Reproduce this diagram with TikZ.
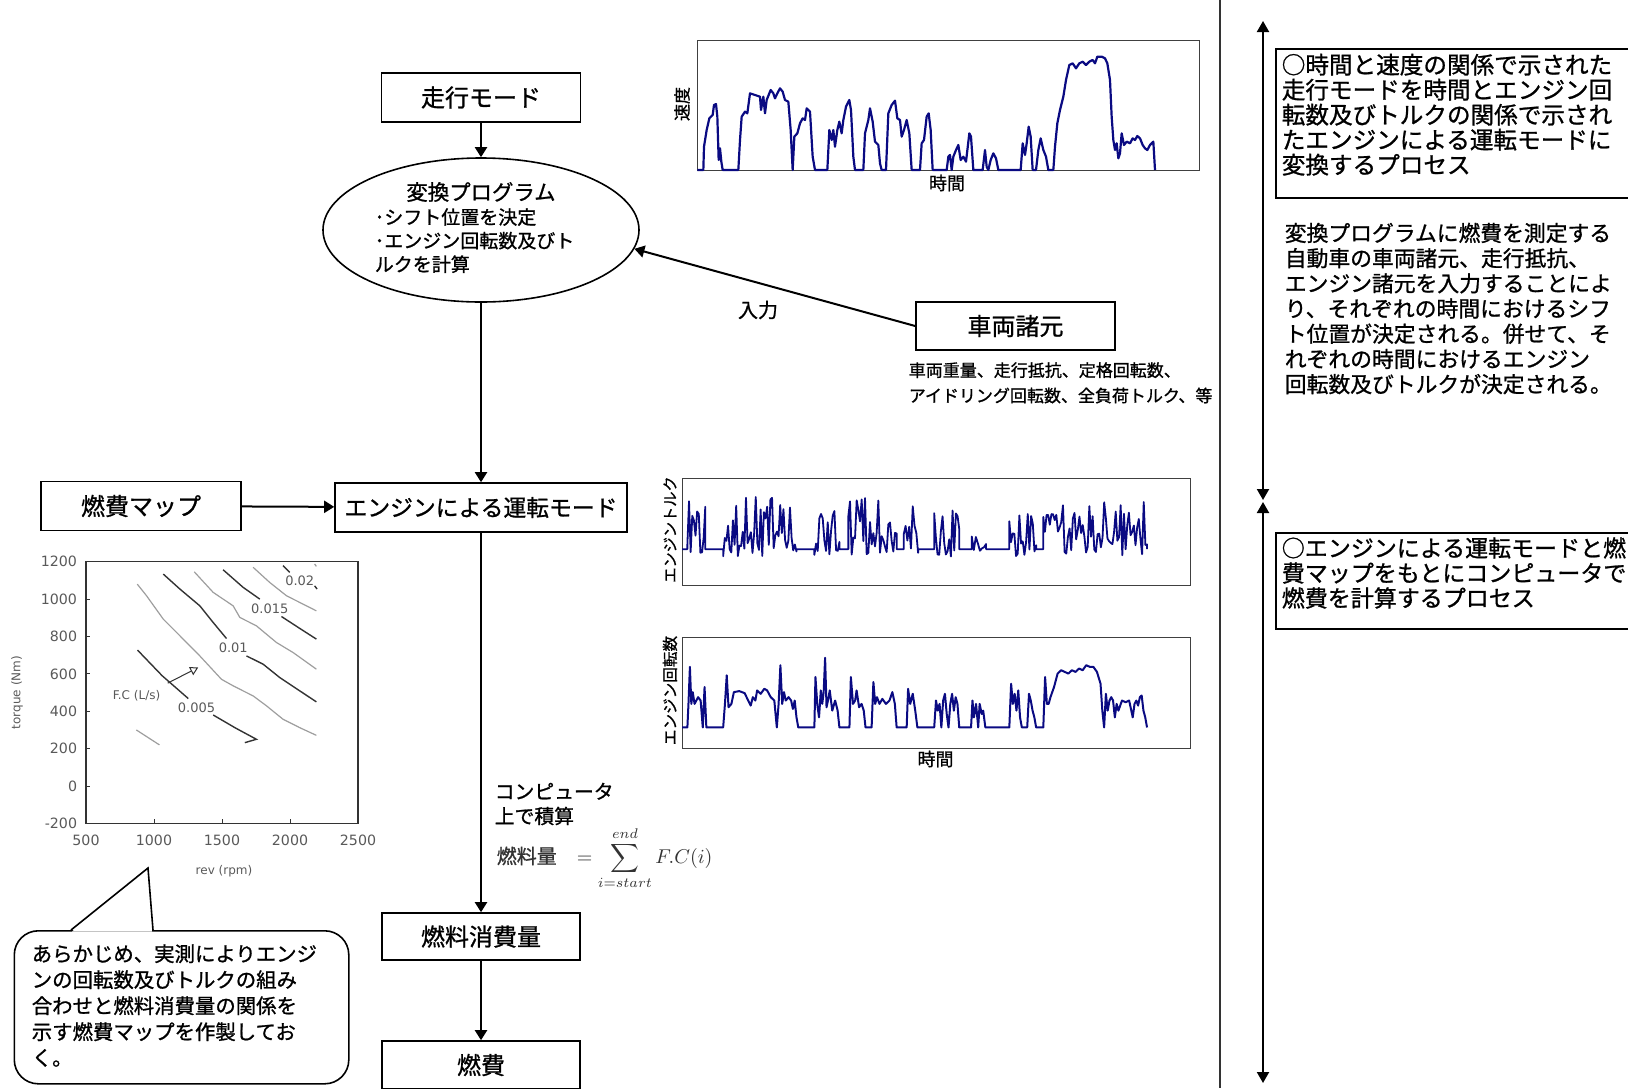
\documentclass[tikz,border=0pt]{standalone}
\usepackage{fontspec}
\newfontfamily\jp[FakeBold=1]{Noto Sans CJK JP}
\newfontfamily\mapfont{DejaVu Sans}
\usetikzlibrary{shapes.geometric,arrows.meta,positioning}
\definecolor{trace}{RGB}{10,10,130}
\definecolor{mapdark}{gray}{0.2}
\definecolor{maplight}{gray}{0.62}
\definecolor{maptext}{gray}{0.35}
\newcommand{\sz}[2]{\fontsize{#1}{#2}\selectfont}

\begin{document}
\begin{tikzpicture}[x=0.5pt,y=-0.5pt,thick,
    box node/.style={draw,inner sep=0pt,font=\jp\sz{12}{14}},
    flow/.style={line width=1pt,-{Triangle[length=5pt,width=6pt]}},
    both flow/.style={line width=1pt,{Triangle[length=5.5pt,width=6pt]}-{Triangle[length=5.5pt,width=6pt]}},
    plot frame/.style={draw=black!75,line width=0.6pt},
    trace line/.style={draw=trace,line width=1.1pt,line join=round},
    label text/.style={font=\jp\sz{8.5}{10}},
    para/.style={align=left,inner sep=0pt,anchor=north west},
    dark contour/.style={mapdark,line width=0.7pt},
    light contour/.style={maplight,line width=0.6pt}]

  \useasboundingbox (0,0) rectangle (1628,1088);

  % main flow
  \node[box node,minimum width=99.5pt,minimum height=24.5pt] (mode) at (481,97.5) {走行モード};
  \node[draw,ellipse,inner sep=0pt,minimum width=158pt,minimum height=72pt] (conv) at (481,230) {};
  \node[font=\jp\sz{10.7}{12}] (convtitle) at (481,192) {変換プログラム};
  \node[para,font=\jp\sz{9.5}{11.8}] (convtext) at (374,207.5) {･シフト位置を決定\\･エンジン回転数及びト\\ルクを計算};

  \node[box node,minimum width=99.5pt,minimum height=24pt] (spec) at (1015.5,326) {車両諸元};
  \node[para,font=\jp\sz{8.5}{12.7}] (spectext) at (908,361.5) {車両重量、走行抵抗、定格回転数、\\アイドリング回転数、全負荷トルク、等};
  \node[font=\jp\sz{10}{12}] (input) at (758,310) {入力};

  \node[box node,minimum width=146pt,minimum height=24.5pt,font=\jp\sz{11.4}{13}] (engine) at (481,507.5) {エンジンによる運転モード};
  \node[box node,minimum width=100pt,minimum height=24.5pt] (fmap) at (141,506) {燃費マップ};
  \node[box node,minimum width=99pt,minimum height=23.5pt] (fuel) at (481,936.5) {燃料消費量};
  \node[box node,minimum width=99pt,minimum height=24pt] (cost) at (481,1065) {燃費};

  \node[para,font=\jp\sz{9.9}{12.3}] (calc) at (494,782) {コンピュータ\\上で積算};
  \node[anchor=west,inner sep=0pt,text=black!80,font=\sz{10}{12}] (sum) at (496,858)
    {{\jp 燃料量}\quad$\displaystyle = \sum_{i=start}^{end} F.C(i)$};

  \path[flow] (mode) edge (conv)
    (conv) edge (engine)
    (engine) edge (fuel)
    (fuel) edge (cost)
    (fmap) edge (engine)
    (spec.west) edge (conv.-7);

  % speed plot
  \node[plot frame,minimum width=251pt,minimum height=65pt,anchor=north west,inner sep=0pt] (vplot) at (697,40) {};
  \node[label text,rotate=90] (vlabel) at (682,104) {速度};
  \node[label text,font=\jp\sz{9}{10}] (vtime) at (947,183) {時間};
  \begin{scope}[shift={(660,30)},scale=1/3]
    \draw[trace line] plot coordinates {(112,420) (130,420) (132,350) (140,300) (148,265) (158,255) (162,225) (168,222) (172,260) (176,390) (180,355) (184,395) (188,420) (235,420) (240,330) (245,260) (255,245) (262,250) (270,190) (285,195) (300,200) (303,240) (310,200) (315,250) (320,210) (332,180) (340,190) (345,205) (352,190) (360,175) (368,185) (375,210) (385,215) (392,300) (398,420) (403,320) (412,310) (420,280) (428,265) (435,270) (440,235) (450,245) (458,380) (465,420) (502,420) (508,300) (515,330) (520,300) (525,350) (532,300) (538,275) (545,310) (550,270) (558,230) (568,210) (573,240) (580,380) (585,420) (610,420) (615,310) (625,270) (630,235) (638,275) (645,335) (655,345) (660,400) (665,420) (678,420) (685,250) (695,225) (705,212) (712,265) (720,270) (725,320) (732,300) (740,270) (748,310) (755,420) (780,420) (785,340) (792,330) (800,260) (806,250) (812,300) (818,420) (860,420) (865,380) (870,375) (875,420) (880,380) (888,360) (895,345) (902,390) (910,380) (918,395) (928,310) (933,320) (940,420) (968,420) (975,360) (980,410) (985,420) (992,390) (1000,370) (1008,385) (1015,420) (1082,420) (1088,340) (1095,375) (1100,340) (1106,290) (1112,320) (1118,420) (1128,420) (1135,360) (1142,325) (1150,360) (1158,380) (1165,420) (1180,420) (1185,350) (1192,280) (1200,240) (1210,200) (1218,150) (1228,105) (1238,100) (1248,115) (1258,100) (1268,95) (1278,105) (1288,95) (1298,90) (1305,100) (1312,80) (1325,80) (1335,85) (1342,100) (1350,150) (1355,260) (1360,330) (1365,360) (1370,340) (1375,385) (1380,370) (1385,310) (1392,345) (1400,335) (1410,340) (1418,325) (1425,330) (1432,318) (1440,325) (1448,345) (1455,355) (1462,360) (1470,345) (1480,335) (1485,420)};
  \end{scope}

  % torque and rpm plots
  \node[plot frame,minimum width=254pt,minimum height=53.5pt,anchor=north west,inner sep=0pt] (tplot) at (682,477.6) {};
  \node[plot frame,minimum width=254pt,minimum height=55.5pt,anchor=north west,inner sep=0pt] (nplot) at (682,636.5) {};
  \node[label text,rotate=90,font=\jp\sz{7.6}{9}] (tlabel) at (670,529.5) {エンジントルク};
  \node[label text,rotate=90,font=\jp\sz{7.8}{9}] (nlabel) at (670,690.5) {エンジン回転数};
  \node[label text,font=\jp\sz{9}{10}] (ntime) at (935.5,759) {時間};
  \pgfmathsetseed{42}
  \begin{scope}[shift={(639.1,470.3)},xscale=0.3577,yscale=0.3313]
    \draw[trace line,line width=0.9pt] (120,238) -- (135,238)
      -- plot[domain=135:185,samples=12] (\x,{260-175*pow(rnd,1.4)}) -- (185,238) -- (235,238)
      -- plot[domain=235:440,samples=46] (\x,{260-180*pow(rnd,1.4)}) -- (440,238) -- (490,238)
      -- plot[domain=490:560,samples=16] (\x,{260-160*pow(rnd,1.4)}) -- (560,238) -- (585,238)
      -- plot[domain=585:720,samples=30] (\x,{260-180*pow(rnd,1.4)}) -- (720,238) -- (740,238)
      -- plot[domain=740:780,samples=9] (\x,{260-160*pow(rnd,1.4)}) -- (780,238) -- (825,238)
      -- plot[domain=825:895,samples=16] (\x,{260-140*pow(rnd,1.4)}) -- (895,238) -- (930,238)
      -- plot[domain=930:970,samples=8] (\x,{252-100*pow(rnd,1.4)}) -- (970,238) -- (1035,238)
      -- plot[domain=1035:1110,samples=17] (\x,{260-160*pow(rnd,1.4)}) -- (1110,238) -- (1130,238)
      -- plot[domain=1130:1180,samples=12] (\x,{190-80*rnd})
      -- plot[domain=1185:1420,samples=52] (\x,{262-170*pow(rnd,1.4)}) -- (1420,238);
  \end{scope}
  \begin{scope}[shift={(639.1,468.2)},xscale=0.3577,yscale=0.3367]
    \draw[trace line,line width=1pt] plot coordinates {(120,770) (135,770) (138,700) (142,590) (146,700) (150,665) (155,700) (160,690) (165,680) (172,690) (178,770) (183,650) (188,770) (235,770) (240,700) (245,615) (250,710) (258,700) (265,665) (280,662) (295,668) (305,690) (312,705) (318,680) (325,690) (330,660) (340,670) (350,655) (358,660) (368,680) (378,690) (385,770) (390,700) (395,585) (400,700) (405,665) (410,690) (418,680) (425,690) (430,715) (435,690) (440,740) (445,770) (490,770) (493,620) (498,700) (503,740) (508,660) (512,700) (516,665) (520,563) (524,710) (528,690) (533,660) (540,720) (548,690) (555,720) (560,770) (588,770) (592,620) (598,700) (604,690) (608,660) (615,710) (622,700) (628,720) (633,770) (650,770) (655,635) (660,700) (665,680) (672,700) (680,685) (690,700) (700,690) (708,665) (715,700) (720,770) (748,770) (752,655) (758,700) (765,670) (772,720) (778,770) (825,770) (830,690) (835,720) (840,700) (845,770) (850,690) (855,670) (860,730) (865,770) (870,700) (875,670) (880,720) (885,680) (890,700) (895,770) (928,770) (932,690) (936,740) (942,700) (948,770) (952,700) (958,730) (962,720) (968,770) (1035,770) (1040,640) (1045,700) (1050,670) (1055,720) (1060,660) (1065,740) (1070,770) (1085,770) (1090,670) (1095,690) (1100,720) (1105,740) (1110,770) (1130,770) (1135,620) (1140,700) (1145,700) (1150,680) (1160,650) (1170,610) (1180,600) (1190,605) (1200,610) (1210,600) (1220,605) (1230,595) (1240,600) (1250,585) (1260,590) (1270,590) (1280,605) (1290,640) (1295,720) (1300,770) (1305,670) (1310,720) (1315,690) (1320,680) (1325,690) (1330,740) (1335,700) (1340,720) (1350,690) (1360,695) (1370,690) (1380,740) (1385,700) (1390,690) (1395,705) (1400,680) (1405,675) (1410,720) (1415,740) (1420,770)};
  \end{scope}

  % fuel map
  \node[rotate=90,text=maptext,font=\mapfont\sz{6}{7}] (tqlabel) at (17,692.5) {torque (Nm)};
  \node[text=maptext,font=\mapfont\sz{6}{7}] (revlabel) at (224,871) {rev (rpm)};
  \begin{scope}[shift={(18,786)},xscale=0.136,yscale=-0.1869,text=maptext,font=\mapfont\sz{7.1}{8}]
    \draw[mapdark,line width=0.6pt] (500,-200) rectangle (2500,1200);
    \foreach \t in {-200,0,...,1200}{
      \draw[mapdark,line width=0.5pt] (500,\t) -- ++(30,0);
      \node[anchor=east,inner sep=0pt] at (440,\t) {\t};
    }
    \foreach \r in {500,1000,...,2500}{
      \draw[mapdark,line width=0.5pt] (\r,-200) -- ++(0,25);
      \node at (\r,-290) {\r};
    }
    \draw[light contour] (870,300) -- (1040,220);
    \draw[light contour] (877,1080) -- (945,1018) -- (1068,893) -- (1190,804) -- (1337,696) -- (1496,571) -- (1582,536) -- (1729,482) -- (1827,429) -- (1949,357) -- (2072,312) -- (2194,271);
    \draw[light contour] (1296,1146) -- (1435,1036) -- (1582,964) -- (1631,902) -- (1753,857) -- (1900,768) -- (2023,714) -- (2194,625);
    \draw[light contour] (1729,1170) -- (1851,1089) -- (1974,1018) -- (2194,937);
    \draw[light contour] (2181,1188) -- (2194,1175);
    \draw[dark contour] (879,727) -- (1060,590) -- (1252,468);
    \draw[dark contour] (1435,380) -- (1600,310) -- (1753,250) -- (1668,232);
    \draw[dark contour] (1068,1134) -- (1190,1054) -- (1337,964) -- (1435,875) -- (1533,789);
    \draw[dark contour] (1680,696) -- (1802,652) -- (1925,580) -- (2072,509) -- (2194,450);
    \draw[dark contour] (1508,1157) -- (1655,1063) -- (1778,1000);
    \draw[dark contour] (1937,907) -- (2072,843) -- (2194,786);
    \draw[dark contour] (1949,1179) -- (1998,1143);
    \draw[dark contour] (2181,1071) -- (2199,1054);
    \node[font=\mapfont\sz{6.5}{7}] (c020) at (2072,1098) {0.02};
    \node[font=\mapfont\sz{6.5}{7}] (c015) at (1851,950) {0.015};
    \node[font=\mapfont\sz{6.5}{7}] (c010) at (1583,741) {0.01};
    \node[font=\mapfont\sz{6.5}{7}] (c005) at (1313,420) {0.005};
    \node[font=\mapfont\sz{6}{7}] (fclabel) at (872,482) {F.C (L/s)};
    \coordinate (fctip) at (1325,634);
    \draw[mapdark,line width=0.5pt,-{Triangle[open,length=4pt,width=4.5pt]}] (fclabel.north east) -- (fctip);
  \end{scope}

  % note balloon
  \node[draw,rounded corners=12pt,minimum width=167.25pt,minimum height=76.5pt,anchor=north west,inner sep=0pt] (note) at (13.5,930) {};
  \coordinate (notetip) at (148,868);
  \fill[white] (72,931.5) -- (notetip) -- (152,931.5) -- cycle;
  \draw (71,930) -- (notetip) -- (153,930);
  \node[para,font=\jp\sz{10.2}{13}] (notetext) at (31,943.5) {あらかじめ、実測によりエンジ\\ンの回転数及びトルクの組み\\合わせと燃料消費量の関係を\\示す燃費マップを作製してお\\く。};

  % right column
  \draw[black!80,line width=0.8pt] (1220,0) -- (1220,1088);
  \coordinate (r1top) at (1263,21);
  \coordinate (r1bot) at (1263,500);
  \coordinate (r2top) at (1263,502);
  \coordinate (r2bot) at (1263,1083);
  \draw[both flow] (r1top) -- (r1bot);
  \draw[both flow] (r2top) -- (r2bot);

  \node[draw,minimum width=177pt,minimum height=74.5pt,anchor=north west,inner sep=0pt] (proc1) at (1275,48) {};
  \node[para,font=\jp\sz{11.8}{12.5}] (proc1text) at (1281,53) {○時間と速度の関係で示された\\走行モードを時間とエンジン回\\転数及びトルクの関係で示され\\たエンジンによる運転モードに\\変換するプロセス};
  \node[para,font=\jp\sz{10.9}{12.6}] (desc) at (1284,222) {変換プログラムに燃費を測定する\\自動車の車両諸元、走行抵抗、\\エンジン諸元を入力することによ\\り、それぞれの時間におけるシフ\\ト位置が決定される。併せて、そ\\れぞれの時間におけるエンジン\\回転数及びトルクが決定される。};
  \node[draw,minimum width=177pt,minimum height=48pt,anchor=north west,inner sep=0pt] (proc2) at (1275,532) {};
  \node[para,font=\jp\sz{11.5}{12.5}] (proc2text) at (1281,536.5) {○エンジンによる運転モードと燃\\費マップをもとにコンピュータで\\燃費を計算するプロセス};
\end{tikzpicture}
\end{document}
